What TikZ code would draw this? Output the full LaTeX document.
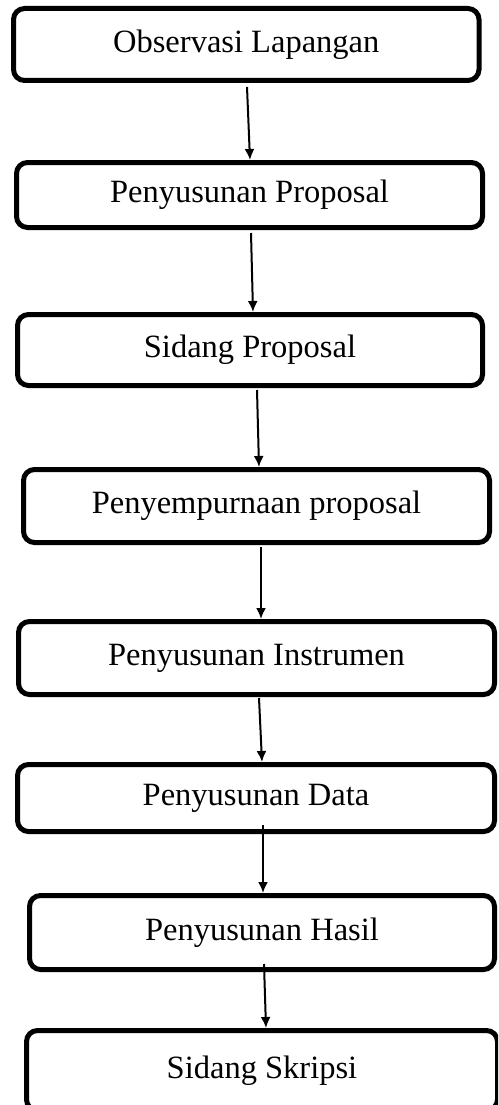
\documentclass[tikz,border=0pt]{standalone}
\usepackage{fontspec}
\setmainfont{Liberation Serif}
\usetikzlibrary{arrows.meta}
\begin{document}
\begin{tikzpicture}[x=1pt,y=-1pt,
  stepbox/.style={draw, line width=5pt, rounded corners=11pt, fill=white,
    inner sep=0pt, font=\fontsize{32.5}{38}\selectfont},
  arr/.style={line width=2pt, -{Latex[length=11pt,width=10pt]}}]
\useasboundingbox (0,0) rectangle (498,1105);
\clip (0,0) rectangle (498,1105);
\node[stepbox, minimum width=465.5pt, minimum height=72pt] (b1) at (246.25,44.5) {Observasi Lapangan};
\node[stepbox, minimum width=466pt, minimum height=65pt] (b2) at (249.5,195) {Penyusunan Proposal};
\node[stepbox, minimum width=465pt, minimum height=71pt] (b3) at (250,350) {Sidang Proposal};
\node[stepbox, minimum width=466pt, minimum height=73pt] (b4) at (256.5,506) {Penyempurnaan proposal};
\node[stepbox, minimum width=476pt, minimum height=73pt] (b5) at (256.5,658) {Penyusunan Instrumen};
\node[stepbox, minimum width=477pt, minimum height=67pt] (b6) at (256,798) {Penyusunan Data};
\node[stepbox, minimum width=465pt, minimum height=74pt] (b7) at (262,932.5) {Penyusunan Hasil};
\node[stepbox, minimum width=471pt, minimum height=80pt] (b8) at (262,1070.5) {\raisebox{3pt}{Sidang Skripsi}};
\draw[arr] ([xshift=0.75pt,yshift=-4pt]b1.south) -- ([xshift=0.5pt]b2.north);
\draw[arr] ([xshift=1.5pt,yshift=-3pt]b2.south) -- ([xshift=3pt]b3.north);
\draw[arr] ([xshift=7pt,yshift=-2pt]b3.south) -- ([xshift=2.5pt]b4.north);
\draw[arr] ([xshift=4.5pt,yshift=-2pt]b4.south) -- ([xshift=4.5pt]b5.north);
\draw[arr] ([xshift=2.5pt,yshift=-1pt]b5.south) -- ([xshift=6pt]b6.north);
\draw[arr] ([xshift=7pt,yshift=9pt]b6.south) -- ([xshift=1pt]b7.north);
\draw[arr] ([xshift=2pt,yshift=8pt]b7.south) -- ([xshift=4pt]b8.north);
\end{tikzpicture}
\end{document}
